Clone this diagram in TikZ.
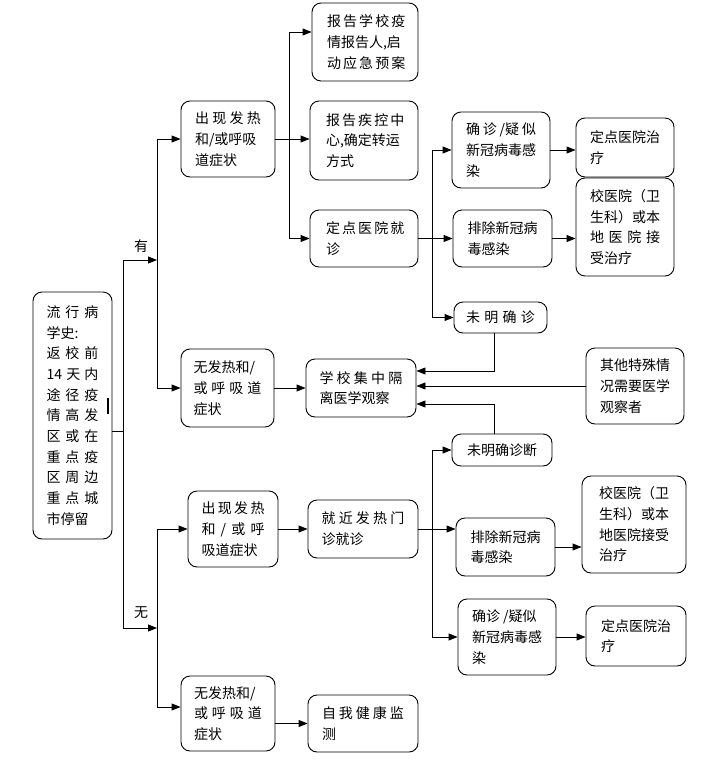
\documentclass[tikz,border=0pt]{standalone}
\usepackage{fontspec}
\newfontfamily\cjkf{Noto Sans CJK SC}
\usetikzlibrary{arrows.meta}
\newcommand{\sx}[2]{\makebox[#1pt][s]{#2}}
\begin{document}
\begin{tikzpicture}[x=1pt,y=-1pt,
  box/.style={draw, rounded corners=9pt, line width=0.9pt, align=left, inner sep=0pt,
    font=\cjkf\fontsize{14pt}{20.7pt}\selectfont},
  conn/.style={line width=0.9pt},
  arr/.style={line width=0.9pt, -{Triangle[length=9pt,width=7pt]}},
  lbl/.style={font=\cjkf\fontsize{14pt}{17pt}\selectfont, inner sep=0pt}]
\useasboundingbox[fill=white] (0,0) rectangle (722,764);

% main box
\node[box, minimum width=79pt, minimum height=247pt] (M) at (72.5,415.5)
  {\sx{52}{流 行 病}\\学史:\\\sx{52}{返 校 前}\\\sx{52}{14 天 内}\\\sx{52}{途 径 疫}\\\sx{52}{情 高 发}\\\sx{52}{区 或 在}\\\sx{52}{重 点 疫}\\\sx{52}{区 周 边}\\\sx{52}{重 点 城}\\市停留};

% second column
\node[box, minimum width=94pt, minimum height=76pt] (A) at (228,139)
  {\sx{66}{出 现 发 热}\\和/或呼吸\\道症状};
\node[box, minimum width=93pt, minimum height=78pt] (B) at (227.5,388)
  {无发热和/\\\sx{68}{或 呼 吸 道}\\症状};
\node[box, minimum width=90pt, minimum height=76pt] (I) at (233,529)
  {\sx{63}{出 现 发 热}\\\sx{63}{和 / 或 呼}\\吸道症状};
\node[box, minimum width=94pt, minimum height=75pt] (N) at (228,713.5)
  {无发热和/\\\sx{68}{或 呼 吸 道}\\症状};

% third column
\node[box, minimum width=106pt, minimum height=78pt] (C1) at (365,42)
  {\sx{76}{报 告 学 校 疫}\\情报告人,启\\\sx{76}{动 应 急 预 案}};
\node[box, minimum width=108pt, minimum height=79pt] (C2) at (364,140.5)
  {\sx{76}{报 告 疾 控 中}\\心,确定转运\\方式};
\node[box, minimum width=108pt, minimum height=57pt] (C3) at (364,238.5)
  {\sx{76}{定 点 医 院 就}\\诊};
\node[box, minimum width=110pt, minimum height=58pt] (F) at (361,388)
  {\sx{83}{学 校 集 中 隔}\\离医学观察};
\node[box, minimum width=110pt, minimum height=58pt] (J) at (363,529)
  {\sx{83}{就 近 发 热 门}\\诊就诊};
\node[box, minimum width=110pt, minimum height=57pt] (O) at (363,723.5)
  {\sx{82}{自 我 健 康 监}\\测};

% fourth column
\node[box, minimum width=98pt, minimum height=76pt] (D1) at (501,150)
  {\sx{70}{确 诊 /疑 似}\\新冠病毒感\\染};
\node[box, minimum width=99pt, minimum height=57pt] (D2) at (502.5,238.5)
  {排除新冠病\\毒感染};
\node[box, minimum width=93pt, minimum height=31pt] (D3) at (500.5,317.5)
  {\sx{69}{未 明 确 诊}};
\node[box, minimum width=100pt, minimum height=32pt] (H) at (502,450)
  {未明确诊断};
\node[box, minimum width=99pt, minimum height=58pt] (K2) at (505.5,547)
  {排除新冠病\\毒感染};
\node[box, minimum width=98pt, minimum height=76pt] (K3) at (507,637)
  {确诊 /疑似\\新冠病毒感\\染};

% fifth column
\node[box, minimum width=98pt, minimum height=59pt] (E1) at (625,147.5)
  {定点医院治\\疗};
\node[box, minimum width=98pt, minimum height=98pt] (E2) at (625,227)
  {校医院（卫\\生科）或本\\\sx{70}{地 医 院 接}\\受治疗};
\node[box, minimum width=98pt, minimum height=76pt] (G) at (635,386)
  {其他特殊情\\况需要医学\\观察者};
\node[box, minimum width=104pt, minimum height=97pt] (L2) at (634,524.5)
  {校医院（卫\\生科）或本\\地医院接受\\治疗};
\node[box, minimum width=100pt, minimum height=60pt] (L3) at (636,636)
  {定点医院治\\疗};

% labels
\node[lbl] (yes) at (141,246) {有};
\node[lbl] (no) at (141,613) {无};

% small mark
\draw[line width=1.8pt] (108,398) -- (108,414);

% trunk from main box
\coordinate (t0) at (123,431);
\coordinate (tY) at (123,260);
\coordinate (tN) at (123,628);
\coordinate (yE) at (157,260);
\coordinate (nE) at (157,628);
\draw[conn] (M.east |- t0) -- (t0);
\draw[conn] (tY) -- (tN);
\draw[arr] (tY) -- (yE);
\draw[arr] (tN) -- (nE);

% upper fork
\coordinate (vA) at (157,139);
\coordinate (vB) at (157,388);
\draw[conn] (vA) -- (vB);
\draw[arr] (vA) -- (A.west);
\draw[arr] (vB) -- (B.west);

% lower fork
\coordinate (vI) at (157,529);
\coordinate (vN) at (157,707);
\draw[conn] (vI) -- (vN);
\draw[arr] (vI) -- (I.west);
\draw[arr] (vN) -- (N.west |- vN);

% A -> C
\coordinate (c1) at (289,32);
\coordinate (c3) at (289,238.5);
\draw[arr] (A.east) -- (A.east -| C2.west);
\draw[conn] (c1) -- (c3);
\draw[arr] (c1) -- (C1.west |- c1);
\draw[arr] (c3) -- (C3.west);

% C3 -> D
\coordinate (d1) at (432,150);
\coordinate (d2) at (432,238.5);
\coordinate (d3) at (432,317.5);
\draw[conn] (C3.east) -- (d2);
\draw[conn] (d1) -- (d3);
\draw[arr] (d1) -- (D1.west);
\draw[arr] (d2) -- (D2.west);
\draw[arr] (d3) -- (D3.west);
\draw[arr] (D1.east) -- (D1.east -| E1.west);
\draw[arr] (D2.east) -- (D2.east -| E2.west);

% into F
\coordinate (f1) at (494,371);
\coordinate (f3) at (494,404);
\draw[arr] (f1 |- D3.south) -- (f1) -- (F.east |- f1);
\draw[arr] (G.west) -- (G.west -| F.east);
\draw[arr] (f3 |- H.north) -- (f3) -- (F.east |- f3);
\draw[arr] (B.east) -- (F.west);

% J -> K
\coordinate (k1) at (432,450);
\coordinate (k2) at (432,529);
\coordinate (k3) at (432,637);
\draw[arr] (I.east) -- (J.west);
\draw[conn] (J.east) -- (k2);
\draw[conn] (k1) -- (k3);
\draw[arr] (k1) -- (H.west);
\draw[arr] (k2) -- (K2.west |- k2);
\draw[arr] (k3) -- (K3.west);
\draw[arr] (K2.east) -- (K2.east -| L2.west);
\draw[arr] (K3.east) -- (K3.east -| L3.west);

% N -> O
\draw[arr] (N.east |- O.west) -- (O.west);
\end{tikzpicture}
\end{document}
